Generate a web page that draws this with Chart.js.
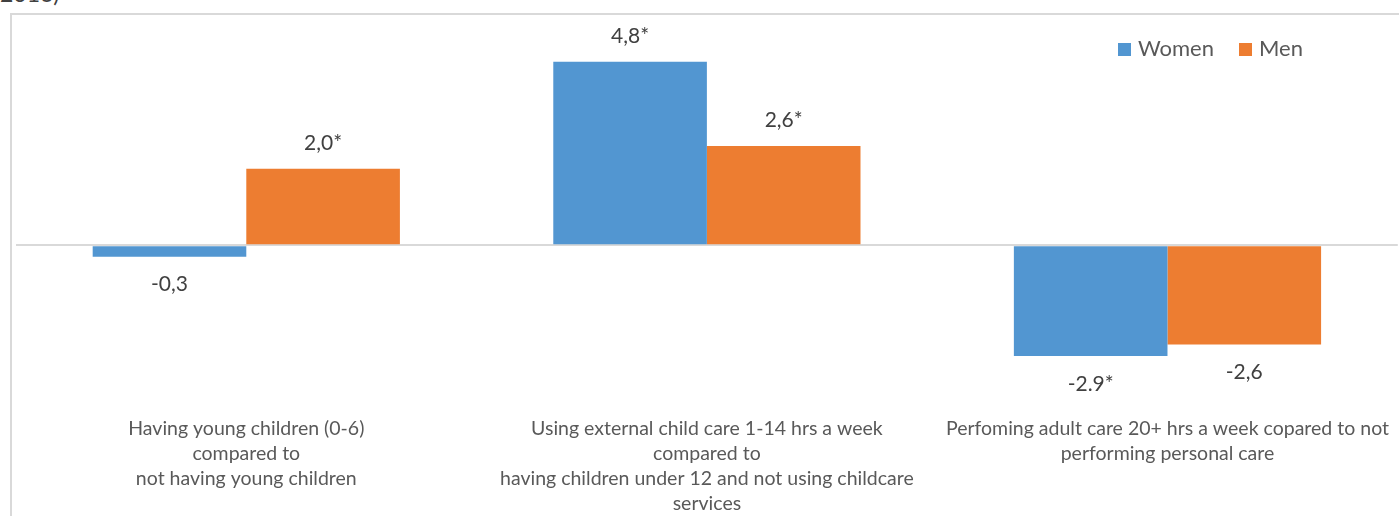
<!DOCTYPE html>
<html>
<head>
<meta charset="utf-8">
<script src="https://cdn.jsdelivr.net/npm/chart.js@4"></script>
<style>
  html, body { margin: 0; padding: 0; background: #fff; }
  body { width: 1399px; height: 516px; position: relative; overflow: hidden; font-family: Lato, sans-serif; }
  #frame { position: absolute; left: 10px; top: 13px; width: 1400px; height: 520px; border-left: 2px solid #d9d9d9; border-top: 2px solid #d9d9d9; }
  #caption { position: absolute; left: 0; top: -21px; font-size: 23px; color: #404040; }
  #wrap { position: absolute; left: 0; top: 0; width: 1399px; height: 516px; }
</style>
</head>
<body>
<div id="caption">2016)</div>
<div id="frame"></div>
<div id="wrap"><canvas id="chart"></canvas></div>
<script>
const categories = [
  ['Having young children (0-6)', 'compared to', 'not having young children'],
  ['Using external child care 1-14 hrs a week', 'compared to', 'having children under 12 and not using childcare', 'services'],
  ['Perfoming adult care 20+ hrs a week copared to not', 'performing personal care']
];
const women = [-0.3, 4.8, -2.9];
const men = [2.0, 2.6, -2.6];
const womenLabels = ['-0,3', '4,8*', '-2.9*'];
const menLabels = ['2,0*', '2,6*', '-2,6'];
const seriesNames = ['Women', 'Men'];

const valueLabels = {
  id: 'valueLabels',
  afterDatasetsDraw(chart) {
    const ctx = chart.ctx;
    ctx.save();
    ctx.font = '21px Lato, sans-serif';
    ctx.fillStyle = '#404040';
    ctx.textAlign = 'center';
    ctx.textBaseline = 'middle';
    chart.data.datasets.forEach((ds, i) => {
      chart.getDatasetMeta(i).data.forEach((bar, j) => {
        const v = ds.data[j];
        const y = v >= 0 ? bar.y - 26 : bar.y + 28;
        ctx.fillText(ds.labels[j], bar.x, y);
      });
    });
    ctx.restore();
  }
};

const topLegend = {
  id: 'topLegend',
  afterDraw(chart) {
    const ctx = chart.ctx;
    ctx.save();
    ctx.font = '22px Lato, sans-serif';
    ctx.textBaseline = 'middle';
    let x = 1118;
    const y = 49;
    chart.data.datasets.forEach(ds => {
      ctx.fillStyle = ds.backgroundColor;
      ctx.fillRect(x, y - 6, 13, 13);
      ctx.fillStyle = '#595959';
      ctx.fillText(ds.label, x + 20, y);
      x += 20 + ctx.measureText(ds.label).width + 25;
    });
    ctx.restore();
  }
};

new Chart(document.getElementById('chart'), {
  type: 'bar',
  data: {
    labels: categories,
    datasets: [
      { label: seriesNames[0], data: women, labels: womenLabels, backgroundColor: '#5296D1' },
      { label: seriesNames[1], data: men, labels: menLabels, backgroundColor: '#ED7D31' }
    ]
  },
  options: {
    responsive: true,
    maintainAspectRatio: false,
    animation: false,
    layout: { padding: { left: 16, right: 0, top: 16, bottom: 0 } },
    plugins: { legend: { display: false }, tooltip: { enabled: false } },
    datasets: { bar: { categoryPercentage: 0.667, barPercentage: 1.0 } },
    scales: {
      x: {
        grid: { display: false },
        border: { display: false },
        afterFit: s => { s.height = 118; },
        ticks: {
          maxRotation: 0,
          autoSkip: false,
          padding: 10,
          color: '#595959',
          font: { family: 'Lato, sans-serif', size: 19.5, lineHeight: 1.28 }
        }
      },
      y: {
        display: true,
        min: -4,
        max: 6,
        ticks: { display: false, stepSize: 1 },
        border: { display: false },
        grid: {
          drawTicks: false,
          color: c => c.tick.value === 0 ? '#d9d9d9' : 'rgba(0,0,0,0)',
          lineWidth: 2
        }
      }
    }
  },
  plugins: [valueLabels, topLegend]
});
</script>
</body>
</html>
